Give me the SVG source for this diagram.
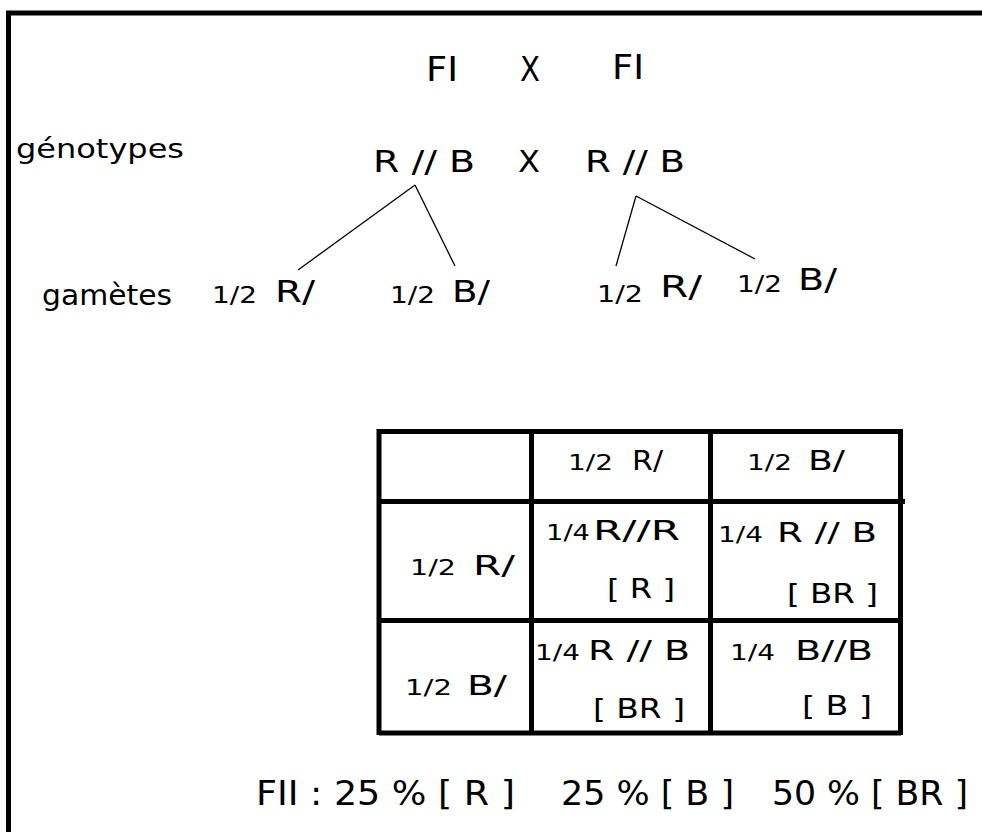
<svg xmlns="http://www.w3.org/2000/svg" width="982" height="832" viewBox="0 0 982 832">
<style>
.t{font-family:"DejaVu Sans","Verdana",sans-serif;fill:#000}
.c{font-family:"DejaVu Sans Condensed","DejaVu Sans",sans-serif;fill:#000}
.s{font-size:23px}
.m{font-size:27px}
.g{stroke:#000;stroke-width:5;fill:none}
.ln{stroke:#000;stroke-width:1.3;fill:none}
</style>
<rect width="982" height="832" fill="#fff"/>
<g id="frame"><path class="g" d="M8.5 832 V13 H982" stroke-width="5.5"/></g>

<g id="cross">
<text class="c" x="426" y="81" font-size="34" textLength="32" lengthAdjust="spacingAndGlyphs">FI</text>
<text class="c" x="520" y="81" font-size="34" textLength="20" lengthAdjust="spacingAndGlyphs">X</text>
<text class="c" x="612" y="79" font-size="34" textLength="32" lengthAdjust="spacingAndGlyphs">FI</text>
</g>

<g id="genotypes">
<text class="t" x="16" y="158" font-size="27" textLength="168" lengthAdjust="spacingAndGlyphs">génotypes</text>
<text class="t" x="373" y="172" font-size="30" textLength="102" lengthAdjust="spacingAndGlyphs">R // B</text>
<text class="t" x="518" y="172" font-size="30" textLength="22" lengthAdjust="spacingAndGlyphs">X</text>
<text class="t" x="585" y="172" font-size="30" textLength="100" lengthAdjust="spacingAndGlyphs">R // B</text>
</g>

<g id="connectors">
<line class="ln" x1="415" y1="185" x2="298" y2="270"/>
<line class="ln" x1="415" y1="185" x2="455" y2="266"/>
<line class="ln" x1="636" y1="196" x2="616" y2="266"/>
<line class="ln" x1="636" y1="196" x2="755" y2="259"/>
</g>

<g id="gametes">
<text class="t" x="42" y="305" font-size="29" textLength="130" lengthAdjust="spacingAndGlyphs">gamètes</text>
<text class="t s" x="212" y="303" textLength="45" lengthAdjust="spacingAndGlyphs">1/2</text>
<text class="t" x="275" y="302" font-size="31" textLength="40" lengthAdjust="spacingAndGlyphs">R/</text>
<text class="t s" x="390" y="303" textLength="45" lengthAdjust="spacingAndGlyphs">1/2</text>
<text class="t" x="452" y="302" font-size="31" textLength="38" lengthAdjust="spacingAndGlyphs">B/</text>
<text class="t s" x="597" y="302" textLength="46" lengthAdjust="spacingAndGlyphs">1/2</text>
<text class="t" x="660" y="297" font-size="31" textLength="42" lengthAdjust="spacingAndGlyphs">R/</text>
<text class="t s" x="737" y="292" textLength="45" lengthAdjust="spacingAndGlyphs">1/2</text>
<text class="t" x="798" y="290" font-size="31" textLength="39" lengthAdjust="spacingAndGlyphs">B/</text>
</g>

<g id="table">
<path class="g" d="M379 431.5 H901 M379 501.5 H905 M379 620.5 H901 M379 733 H901 M379 429 V735 M531.5 431.5 V735 M710.5 431.5 V735 M900.5 429 V735" stroke-width="4.5"/>
<text class="t" x="568" y="470" font-size="22" textLength="45" lengthAdjust="spacingAndGlyphs">1/2</text>
<text class="t m" x="632" y="470" textLength="31" lengthAdjust="spacingAndGlyphs">R/</text>
<text class="t" x="747" y="470" font-size="22" textLength="45" lengthAdjust="spacingAndGlyphs">1/2</text>
<text class="t m" x="808" y="470" textLength="37" lengthAdjust="spacingAndGlyphs">B/</text>

<text class="t" x="410" y="575" font-size="21" textLength="46" lengthAdjust="spacingAndGlyphs">1/2</text>
<text class="t m" x="473" y="575" textLength="42" lengthAdjust="spacingAndGlyphs">R/</text>
<text class="t" x="405" y="695" font-size="21" textLength="47" lengthAdjust="spacingAndGlyphs">1/2</text>
<text class="t m" x="467" y="695" textLength="40" lengthAdjust="spacingAndGlyphs">B/</text>

<text class="t" x="546" y="540" font-size="21" textLength="44" lengthAdjust="spacingAndGlyphs">1/4</text>
<text class="t m" x="593" y="540" textLength="87" lengthAdjust="spacingAndGlyphs">R//R</text>
<text class="t m" x="607" y="598" textLength="68" lengthAdjust="spacingAndGlyphs">[ R ]</text>

<text class="t" x="535" y="660" font-size="21" textLength="45" lengthAdjust="spacingAndGlyphs">1/4</text>
<text class="t m" x="588" y="660" textLength="102" lengthAdjust="spacingAndGlyphs">R // B</text>
<text class="t m" x="593" y="718" textLength="92" lengthAdjust="spacingAndGlyphs">[ BR ]</text>

<text class="t" x="718" y="542" font-size="21" textLength="45" lengthAdjust="spacingAndGlyphs">1/4</text>
<text class="t m" x="777" y="542" textLength="100" lengthAdjust="spacingAndGlyphs">R // B</text>
<text class="t m" x="787" y="603" textLength="91" lengthAdjust="spacingAndGlyphs">[ BR ]</text>

<text class="t" x="730" y="660" font-size="21" textLength="45" lengthAdjust="spacingAndGlyphs">1/4</text>
<text class="t m" x="795" y="660" textLength="78" lengthAdjust="spacingAndGlyphs">B//B</text>
<text class="t m" x="802" y="715" textLength="70" lengthAdjust="spacingAndGlyphs">[ B ]</text>
</g>

<g id="result">
<text class="c" x="256" y="805" font-size="33" textLength="259" lengthAdjust="spacingAndGlyphs">FII : 25 % [ R ]</text>
<text class="c" x="561" y="805" font-size="33" textLength="173" lengthAdjust="spacingAndGlyphs">25 % [ B ]</text>
<text class="c" x="772" y="805" font-size="33" textLength="196" lengthAdjust="spacingAndGlyphs">50 % [ BR ]</text>
</g>
</svg>
